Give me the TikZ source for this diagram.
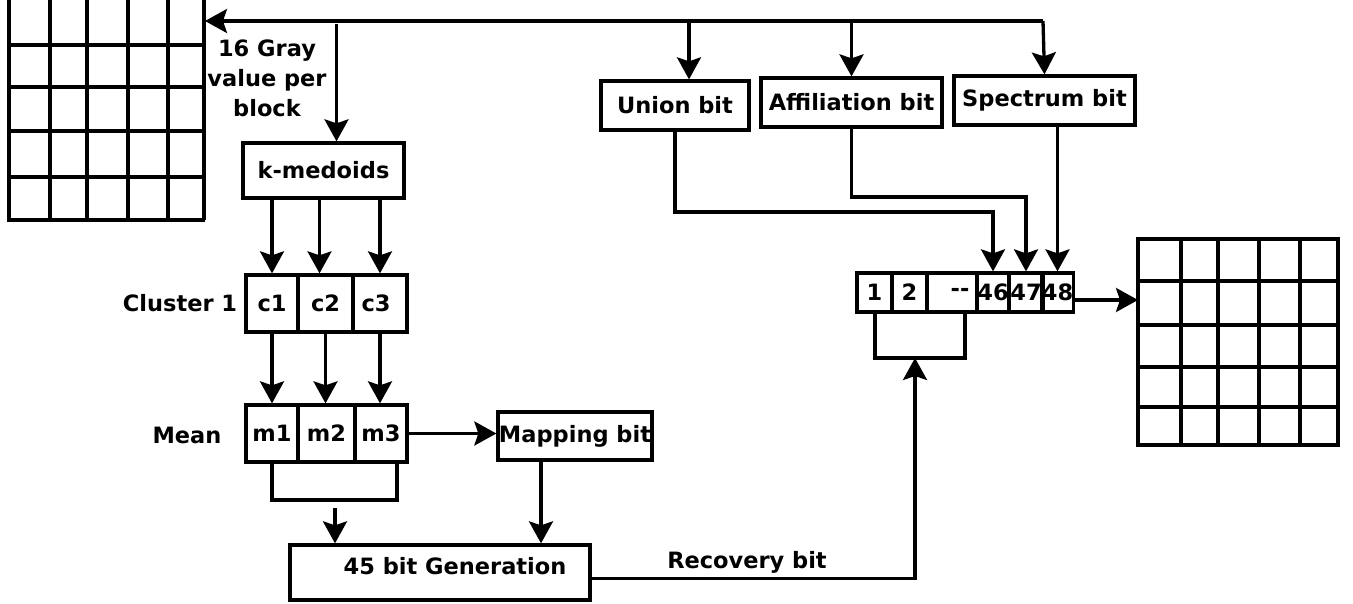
\documentclass[tikz,border=0pt]{standalone}
\usepackage{fontspec}
\setmainfont{DejaVu Sans}
\usetikzlibrary{arrows.meta}
\begin{document}
\begin{tikzpicture}[x=1pt,y=-1pt,line width=3.3pt,
  font=\fontsize{22.5}{30}\selectfont\bfseries,
  arr/.style={-{Stealth[length=22pt,width=24pt,inset=4pt]}},
  box/.style={draw,inner sep=0pt,minimum width=#1},
  cell/.style={draw,inner sep=0pt,minimum width=#1,minimum height=57pt},
  bcell/.style={draw,inner sep=0pt,minimum width=#1,minimum height=39pt},
  lbl/.style={inner sep=0pt}]
\useasboundingbox (0,0) rectangle (1353,604);

% input image grid (top left) and output image grid (right)
\foreach \x in {9,50,87,128,168,204} \draw (\x,0) -- (\x,220);
\foreach \y in {45,87,131,177,220} \draw (7,\y) -- (205,\y);
\foreach \x in {1138,1181,1218,1259,1300,1338} \draw (\x,239) -- (\x,445);
\foreach \y in {239,281,325,367,407,445} \draw (1136,\y) -- (1340,\y);
\coordinate (gridL) at (205,21);
\coordinate (gridR) at (1138,300);

% processing boxes
\node[box=161pt,minimum height=55pt] (km) at (323.5,170.5) {k-medoids};
\node[box=148pt,minimum height=49pt] (un) at (675,105.5) {Union bit};
\node[box=181pt,minimum height=49pt] (af) at (851.5,102.5) {Affiliation bit};
\node[box=181pt,minimum height=49pt] (sp) at (1044.5,100.5) {Spectrum bit};
\node[box=154pt,minimum height=48pt] (map) at (575,436) {Mapping bit};
\node[box=300pt,minimum height=55pt] (gen) at (440,572.5) {};
\node[lbl] (gentxt) at (455,566) {45 bit Generation};

% cluster cells
\node[cell=52pt] (c1) at (272,303.5) {c1};
\node[cell=55pt] (c2) at (325.5,303.5) {c2};
\node[cell=54pt] (c3) at (380,303.5) {\hspace*{-8pt}c3};
% mean cells
\node[cell=52pt] (m1) at (272,433.5) {m1};
\node[cell=57pt] (m2) at (326.5,433.5) {m2};
\node[cell=52pt] (m3) at (381,433.5) {m3};

% 48 bit watermark cells
\node[bcell=35pt] (b1) at (874.5,292.5) {1};
\node[bcell=35pt] (b2) at (909.5,292.5) {2};
\node[bcell=50pt] (bd) at (952,292.5) {\hspace*{16pt}\mbox{-}\mbox{-}};
\node[bcell=32pt] (b46) at (993,292.5) {46};
\node[bcell=34pt] (b47) at (1026,292.5) {47};
\node[bcell=29pt] (b48) at (1057.5,292.5) {48};

% labels
\node[lbl,align=center] (gray) at (267,78) {16 Gray\\value per\\block};
\node[lbl] (clab) at (180,303) {Cluster 1};
\node[lbl] (mlab) at (187,435) {Mean};
\node[lbl] (rlab) at (747,562) {Recovery bit};

% distribution from the image
\coordinate (topR) at (1043,21);
\draw[arr] (topR) -- (gridL);
\draw[arr] (topR) -- (sp.north);
\draw[arr] ([xshift=14pt]un.north |- topR) -- ([xshift=14pt]un.north);
\draw[arr] (af.north |- topR) -- (af.north);
\draw[arr] ([xshift=13pt]km.north |- 0,24) -- ([xshift=13pt]km.north);

% k-medoids to clusters to means
\draw[arr] (c1.north |- km.south) -- (c1.north);
\draw[arr] ([xshift=-6pt]c2.north |- km.south) -- ([xshift=-6pt]c2.north);
\draw[arr] (c3.north |- km.south) -- (c3.north);
\draw[arr] (c1.south) -- (m1.north);
\draw[arr] (c2.south) -- (c2.south |- m2.north);
\draw[arr] (c3.south) -- (c3.south |- m3.north);
\draw[arr] (m3.east) -- (m3.east -| map.west);

% means and mapping bits into the 45 bit generator
\coordinate (mb) at (335,500);
\draw (272,462) -- (272,500) -- (397,500) -- (397,462);
\draw[arr] ([yshift=-8pt]mb) -- (mb |- gen.north);
\draw[arr] (map.south -| 541,0) -- (gen.north -| 541,0);

% recovery bits back to the first 45 cells
\coordinate (rb) at (915,358);
\draw (875,313) -- (875,358) -- (965,358) -- (965,313);
\draw[arr] ([yshift=-6pt]gen.east) -| (rb);

% authentication bits into cells 46-48
\draw[arr] (un.south) |- (b46.north |- 0,212) -- (b46.north);
\draw[arr] (af.south) |- (b47.north |- 0,197) -- (b47.north);
\draw[arr] (b48.north |- sp.south) -- (b48.north);

% watermarked block
\draw[arr] (b48.east |- gridR) -- (gridR);
\end{tikzpicture}
\end{document}
